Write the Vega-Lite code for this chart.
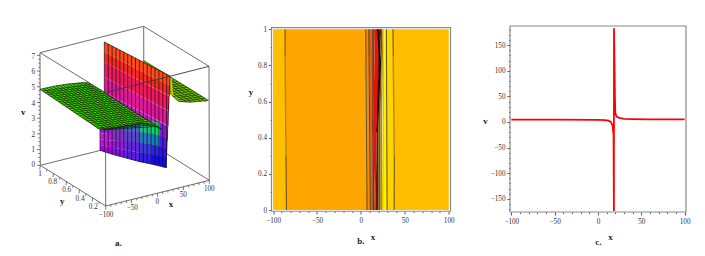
{
"$schema":"https://vega.github.io/schema/vega-lite/v6.json",
"background":"white",
"padding":{"left":21,"top":24,"right":10,"bottom":5},
"bounds":"flush",
"spacing":59.5,
"resolve":{"scale":{"color":"independent"}},
"config":{"view":{"stroke":null},"font":"Liberation Serif","axis":{"labelFont":"Liberation Serif","labelFontSize":7.2,"labelColor":"#333333","tickColor":"#555555","domain":false,"grid":false}},
"datasets":{
"edgesBack":[
{"u":40.3,"w":163.3,"u2":144,"w2":137.6},{"u":144,"w":137.6,"u2":209.3,"w2":178.3},{"u":143.7,"w":24.3,"u2":144,"w2":137.6},
{"u":40,"w":50.7,"u2":143.7,"w2":24.3},{"u":143.7,"w":24.3,"u2":209,"w2":64.3},{"u":40,"w":50.7,"u2":105.5,"w2":90.7},
{"u":105.7,"w":204,"u2":105.5,"w2":90.7},{"u":40.3,"w":163.3,"u2":40,"w2":50.7},{"u":209.3,"w":178.3,"u2":209,"w2":64.3},
{"u":40.3,"w":163.3,"u2":105.7,"w2":204},{"u":105.7,"w":204,"u2":209.3,"w2":178.3}],
"edgeFront":[{"u":105.5,"w":90.7,"u2":209,"w2":64.3}],
"rear":[{"s":"rear","u":143.3,"w":58.3,"b":61},{"s":"rear","u":170,"w":74.2,"b":92},{"s":"rear","u":171.7,"w":75.4,"b":93.3},{"s":"rear","u":178.3,"w":79.4,"b":99.3},{"s":"rear","u":190,"w":86.6,"b":100.3},{"s":"rear","u":200,"w":93,"b":99.5},{"s":"rear","u":208.3,"w":98.3,"b":98.3}],
"rearMesh":[
{"u":175,"w":77.8,"u2":170.5,"w2":78.4},{"u":178,"w":79.6,"u2":170.5,"w2":80.7},{"u":181,"w":81.5,"u2":170.5,"w2":83},{"u":184,"w":83.3,"u2":170.5,"w2":85.2},{"u":187,"w":85.2,"u2":170.5,"w2":87.5},{"u":190,"w":87,"u2":170.5,"w2":89.7},{"u":193,"w":88.9,"u2":170.5,"w2":92},{"u":196,"w":90.7,"u2":173.5,"w2":94.5},{"u":199,"w":92.6,"u2":177,"w2":95.7},{"u":202,"w":94.4,"u2":178,"w2":97.8},{"u":205,"w":96.2,"u2":180,"w2":99.7},
{"u":170.5,"w":78,"u2":205.8,"w2":99.7},{"u":170.5,"w":81,"u2":200.9,"w2":99.7},{"u":170.5,"w":84,"u2":196,"w2":99.7},{"u":170.5,"w":87,"u2":191,"w2":99.7},{"u":170.5,"w":90,"u2":186.3,"w2":99.7},
{"u":143.3,"w":58.3,"u2":208.3,"w2":98.3},{"u":171.7,"w":93.3,"u2":178.3,"w2":99.3},{"u":178.3,"w":99.3,"u2":190,"w2":100.3},{"u":190,"w":100.3,"u2":208.3,"w2":98.3}],
"sliver":[{"u":170.8,"w":76,"u2":172.3,"w2":93}],
"sheet":[
{"s":"U1","u":104.3,"w":40,"b":50},{"s":"U1","u":170,"w":74,"b":84},
{"s":"U2","u":104.3,"w":50,"b":60},{"s":"U2","u":169.6,"w":84,"b":94},
{"s":"U3","u":104.3,"w":60,"b":75},{"s":"U3","u":169,"w":94,"b":109},
{"s":"U4","u":104.3,"w":75,"b":90},{"s":"U4","u":168.5,"w":109,"b":124},
{"s":"U5","u":104.3,"w":90,"b":105},{"s":"U5","u":167.8,"w":124,"b":139},
{"s":"U6","u":104.3,"w":105,"b":120},{"s":"U6","u":167,"w":139,"b":154},
{"s":"U7","u":104.3,"w":120,"b":130},{"s":"U7","u":166.3,"w":154,"b":166},
{"s":"A1","u":100,"w":124,"b":131.3},{"s":"A1","u":113,"w":122,"b":131.2},
{"s":"A2","u":100,"w":131.3,"b":137.4},{"s":"A2","u":113,"w":131.2,"b":138.8},
{"s":"A3","u":100,"w":137.4,"b":143},{"s":"A3","u":113,"w":138.8,"b":145.8},
{"s":"A4","u":100,"w":143,"b":148.3},{"s":"A4","u":113,"w":145.8,"b":152.5},
{"s":"B1","u":113,"w":122,"b":131.2},{"s":"B1","u":126,"w":119,"b":130.1},
{"s":"B2","u":113,"w":131.2,"b":138.8},{"s":"B2","u":126,"w":130.1,"b":139.4},
{"s":"B3","u":113,"w":138.8,"b":145.8},{"s":"B3","u":126,"w":139.4,"b":147.9},
{"s":"B4","u":113,"w":145.8,"b":152.5},{"s":"B4","u":126,"w":147.9,"b":156},
{"s":"C1","u":126,"w":119,"b":130.1},{"s":"C1","u":139,"w":118,"b":130.5},
{"s":"C2","u":126,"w":130.1,"b":139.4},{"s":"C2","u":139,"w":130.5,"b":140.8},
{"s":"C3","u":126,"w":139.4,"b":147.9},{"s":"C3","u":139,"w":140.8,"b":150.4},
{"s":"C4","u":126,"w":147.9,"b":156},{"s":"C4","u":139,"w":150.4,"b":159.5},
{"s":"D1","u":139,"w":118,"b":130.5},{"s":"D1","u":152,"w":119,"b":132},
{"s":"D2","u":139,"w":130.5,"b":140.8},{"s":"D2","u":152,"w":132,"b":142.8},
{"s":"D3","u":139,"w":140.8,"b":150.4},{"s":"D3","u":152,"w":142.8,"b":152.7},
{"s":"D4","u":139,"w":150.4,"b":159.5},{"s":"D4","u":152,"w":152.7,"b":162.2},
{"s":"E1","u":152,"w":119,"b":132},{"s":"E1","u":160,"w":121,"b":133.9},
{"s":"E2","u":152,"w":132,"b":142.8},{"s":"E2","u":160,"w":133.9,"b":144.7},
{"s":"E3","u":152,"w":142.8,"b":152.7},{"s":"E3","u":160,"w":144.7,"b":154.5},
{"s":"E4","u":152,"w":152.7,"b":162.2},{"s":"E4","u":160,"w":154.5,"b":164},
{"s":"F1","u":160,"w":121,"b":133.9},{"s":"F1","u":166,"w":124,"b":136.5},
{"s":"F2","u":160,"w":133.9,"b":144.7},{"s":"F2","u":166,"w":136.5,"b":146.9},
{"s":"F3","u":160,"w":144.7,"b":154.5},{"s":"F3","u":166,"w":146.9,"b":156.5},
{"s":"F4","u":160,"w":154.5,"b":164},{"s":"F4","u":166,"w":156.5,"b":165.7}],
"stripes":[
{"u":104.3,"w":40,"u2":104.3,"w2":149.7},{"u":108.2,"w":42,"u2":108.2,"w2":151},{"u":112.1,"w":44,"u2":112.1,"w2":152.2},{"u":116,"w":46.1,"u2":116,"w2":153.3},{"u":119.9,"w":48.1,"u2":119.9,"w2":154.3},{"u":123.8,"w":50.1,"u2":123.8,"w2":155.4},{"u":127.7,"w":52.1,"u2":127.7,"w2":156.5},{"u":131.6,"w":54.1,"u2":131.6,"w2":157.6},{"u":135.5,"w":56.2,"u2":135.5,"w2":158.6},{"u":139.4,"w":58.2,"u2":139.4,"w2":159.6},{"u":143.3,"w":60.2,"u2":143.3,"w2":160.4},{"u":147.2,"w":62.2,"u2":147.2,"w2":161.2},{"u":151.1,"w":64.3,"u2":151.1,"w2":162},{"u":155,"w":66.3,"u2":155,"w2":162.9},{"u":158.9,"w":68.3,"u2":158.9,"w2":163.8},{"u":162.8,"w":70.3,"u2":162.8,"w2":164.8},{"u":166.7,"w":72.3,"u2":166.4,"w2":165.5},
{"u":104.3,"w":40,"u2":170,"w2":74},{"u":170,"w":74,"u2":166,"w2":165.7},{"u":100,"w":126,"u2":100,"w2":148.3},{"u":100,"w":148.3,"u2":113,"w2":152.5},{"u":113,"w":152.5,"u2":126,"w2":156},{"u":126,"w":156,"u2":139,"w2":159.5},{"u":139,"w":159.5,"u2":152,"w2":162.2},{"u":152,"w":162.2,"u2":166,"w2":165.7}],
"plateau":[{"s":"front","u":40,"w":87.3,"b":87.3},{"s":"front","u":55,"w":84,"b":97.4},{"s":"front","u":68,"w":82,"b":106.2},{"s":"front","u":80,"w":80.5,"b":114.3},{"s":"front","u":88,"w":80.5,"b":119.7},{"s":"front","u":98.3,"w":87.1,"b":126.7},{"s":"front","u":105.7,"w":91.9,"b":127.7},{"s":"front","u":125,"w":104.3,"b":124},{"s":"front","u":140,"w":113.9,"b":121.5},{"s":"front","u":152,"w":121.6,"b":123},{"s":"front","u":161.7,"w":127.3,"b":127.3}],
"mesh":[
{"u":43.2,"w":86.6,"u2":106,"w2":127.4},{"u":46.4,"w":85.9,"u2":110,"w2":127},{"u":49.6,"w":85.2,"u2":113,"w2":126.3},{"u":52.8,"w":84.5,"u2":116,"w2":125.7},{"u":56,"w":83.8,"u2":119,"w2":124.9},{"u":59.2,"w":83.3,"u2":122.5,"w2":124.4},{"u":62.4,"w":82.8,"u2":126,"w2":124},{"u":65.6,"w":82.4,"u2":129,"w2":123.4},{"u":68.8,"w":81.9,"u2":132,"w2":122.9},{"u":72,"w":81.5,"u2":135,"w2":122.3},{"u":75.2,"w":81.1,"u2":138,"w2":121.8},{"u":78.4,"w":80.7,"u2":141.5,"w2":121.7},{"u":81.6,"w":80.5,"u2":145.5,"w2":122.2},{"u":84.8,"w":80.5,"u2":149.5,"w2":122.6},
{"u":42.6,"w":89.1,"u2":90.9,"w2":82.3},{"u":45.2,"w":90.9,"u2":93.7,"w2":84.1},{"u":47.8,"w":92.6,"u2":96.5,"w2":85.8},{"u":50.4,"w":94.4,"u2":99.3,"w2":87.6},{"u":53,"w":96.1,"u2":102.1,"w2":89.3},{"u":55.6,"w":97.9,"u2":104.9,"w2":91.1},{"u":58.2,"w":99.7,"u2":107.7,"w2":92.8},{"u":60.8,"w":101.4,"u2":110.5,"w2":94.6},{"u":63.4,"w":103.2,"u2":113.3,"w2":96.3},{"u":66,"w":104.9,"u2":116.1,"w2":98.1},{"u":68.6,"w":106.7,"u2":118.9,"w2":99.8},{"u":71.2,"w":108.5,"u2":121.7,"w2":101.6},{"u":73.8,"w":110.2,"u2":124.5,"w2":103.3},{"u":76.4,"w":112,"u2":127.3,"w2":105.1},{"u":79,"w":113.7,"u2":130.1,"w2":106.8},{"u":81.6,"w":115.5,"u2":132.9,"w2":108.6},{"u":84.2,"w":117.3,"u2":135.7,"w2":110.3},{"u":86.8,"w":119,"u2":138.5,"w2":112.1},{"u":89.4,"w":120.8,"u2":141.3,"w2":113.8},{"u":92,"w":122.5,"u2":144.1,"w2":115.6},{"u":94.6,"w":124.3,"u2":146.9,"w2":117.3},{"u":97.2,"w":126.1,"u2":149.7,"w2":119.1},{"u":99.8,"w":127,"u2":152.5,"w2":120.8},{"u":102.4,"w":127.3,"u2":155.3,"w2":122.6},{"u":105,"w":127.7,"u2":158.1,"w2":124.3},
{"u":40,"w":87.3,"u2":55,"w2":84},{"u":55,"w":84,"u2":68,"w2":82},{"u":68,"w":82,"u2":88,"w2":80.5},{"u":88,"w":80.5,"u2":161.7,"w2":127.3},{"u":40,"w":87.3,"u2":99,"w2":126.9},{"u":99,"w":126.9,"u2":105.7,"w2":127.7},{"u":105.7,"w":127.7,"u2":125,"w2":124},{"u":125,"w":124,"u2":140,"w2":121.5},{"u":140,"w":121.5,"u2":152,"w2":123},{"u":152,"w":123,"u2":161.7,"w2":127.3}],
"ticksA":[
{"u":40,"w":163.3,"u2":37,"w2":163.3},{"u":40,"w":147.6,"u2":37,"w2":147.6},{"u":40,"w":131.9,"u2":37,"w2":131.9},{"u":40,"w":116.2,"u2":37,"w2":116.2},{"u":40,"w":100.5,"u2":37,"w2":100.5},{"u":40,"w":84.8,"u2":37,"w2":84.8},{"u":40,"w":69.1,"u2":37,"w2":69.1},{"u":40,"w":53.4,"u2":37,"w2":53.4},
{"u":40,"w":159.4,"u2":38.4,"w2":159.4},{"u":40,"w":155.4,"u2":38.4,"w2":155.4},{"u":40,"w":151.5,"u2":38.4,"w2":151.5},{"u":40,"w":143.7,"u2":38.4,"w2":143.7},{"u":40,"w":139.7,"u2":38.4,"w2":139.7},{"u":40,"w":135.8,"u2":38.4,"w2":135.8},{"u":40,"w":128,"u2":38.4,"w2":128},{"u":40,"w":124,"u2":38.4,"w2":124},{"u":40,"w":120.1,"u2":38.4,"w2":120.1},{"u":40,"w":112.3,"u2":38.4,"w2":112.3},{"u":40,"w":108.3,"u2":38.4,"w2":108.3},{"u":40,"w":104.4,"u2":38.4,"w2":104.4},{"u":40,"w":96.6,"u2":38.4,"w2":96.6},{"u":40,"w":92.6,"u2":38.4,"w2":92.6},{"u":40,"w":88.7,"u2":38.4,"w2":88.7},{"u":40,"w":80.9,"u2":38.4,"w2":80.9},{"u":40,"w":76.9,"u2":38.4,"w2":76.9},{"u":40,"w":73,"u2":38.4,"w2":73},{"u":40,"w":65.2,"u2":38.4,"w2":65.2},{"u":40,"w":61.2,"u2":38.4,"w2":61.2},{"u":40,"w":57.3,"u2":38.4,"w2":57.3},
{"u":40.3,"w":163.3,"u2":39.8,"w2":167},{"u":46.8,"w":167.4,"u2":46.4,"w2":169.4},{"u":53.4,"w":171.4,"u2":52.9,"w2":175.1},{"u":59.9,"w":175.5,"u2":59.5,"w2":177.5},{"u":66.5,"w":179.6,"u2":66,"w2":183.3},{"u":73,"w":183.7,"u2":72.6,"w2":185.7},{"u":79.5,"w":187.7,"u2":79,"w2":191.4},{"u":86.1,"w":191.8,"u2":85.7,"w2":193.8},{"u":92.6,"w":195.9,"u2":92.1,"w2":199.6},{"u":99.2,"w":199.9,"u2":98.8,"w2":201.9},
{"u":105.7,"w":204,"u2":105.7,"w2":207.5},{"u":110.9,"w":202.7,"u2":110.9,"w2":204.7},{"u":116.1,"w":201.4,"u2":116.1,"w2":203.4},{"u":121.2,"w":200.1,"u2":121.2,"w2":202.1},{"u":126.4,"w":198.9,"u2":126.4,"w2":200.9},{"u":131.6,"w":197.6,"u2":131.6,"w2":201.1},{"u":136.8,"w":196.3,"u2":136.8,"w2":198.3},{"u":142,"w":195,"u2":142,"w2":197},{"u":147.1,"w":193.7,"u2":147.1,"w2":195.7},{"u":152.3,"w":192.4,"u2":152.3,"w2":194.4},{"u":157.5,"w":191.2,"u2":157.5,"w2":194.7},{"u":162.7,"w":189.9,"u2":162.7,"w2":191.9},{"u":167.9,"w":188.6,"u2":167.9,"w2":190.6},{"u":173,"w":187.3,"u2":173,"w2":189.3},{"u":178.2,"w":186,"u2":178.2,"w2":188},{"u":183.4,"w":184.7,"u2":183.4,"w2":188.2},{"u":188.6,"w":183.4,"u2":188.6,"w2":185.4},{"u":193.8,"w":182.2,"u2":193.8,"w2":184.2},{"u":198.9,"w":180.9,"u2":198.9,"w2":182.9},{"u":204.1,"w":179.6,"u2":204.1,"w2":181.6},{"u":209.3,"w":178.3,"u2":209.3,"w2":181.8}],
"labelsA":[
{"u":33.3,"w":163.3,"t":"0"},{"u":33.3,"w":148.3,"t":"1"},{"u":33.3,"w":132.7,"t":"2"},{"u":33.3,"w":117,"t":"3"},{"u":33.3,"w":101.7,"t":"4"},{"u":33.3,"w":86,"t":"5"},{"u":33.3,"w":70.3,"t":"6"},{"u":33.3,"w":55.3,"t":"7"},
{"u":40,"w":172.3,"t":"1"},{"u":52.7,"w":180,"t":"0.8"},{"u":66.7,"w":188.3,"t":"0.6"},{"u":80,"w":196.7,"t":"0.4"},{"u":93.3,"w":204.7,"t":"0.2"},
{"u":106,"w":212.7,"t":"−100"},{"u":132.3,"w":206,"t":"−50"},{"u":157.3,"w":200,"t":"0"},{"u":183.3,"w":192.7,"t":"50"},{"u":209.3,"w":186.7,"t":"100"}],
"titlesA":[{"u":23.3,"w":110,"t":"v"},{"u":62.3,"w":199.3,"t":"y"},{"u":171,"w":201.7,"t":"x"},{"u":118.3,"w":240.5,"t":"a."}],
"bands":[
{"s":"b00","y":0,"x":-100,"x2":-84.8},{"s":"b00","y":1,"x":-100,"x2":-86.3},
{"s":"b01","y":0,"x":-84.8,"x2":7},{"s":"b01","y":1,"x":-86.3,"x2":5.5},
{"s":"b02","y":0,"x":7,"x2":10.8},{"s":"b02","y":0.45,"x":7,"x2":10.5},{"s":"b02","y":1,"x":5.5,"x2":9},
{"s":"b03","y":0,"x":10.8,"x2":14},{"s":"b03","y":0.45,"x":10.5,"x2":12.7},{"s":"b03","y":1,"x":9,"x2":13.5},
{"s":"b04","y":0,"x":14,"x2":16},{"s":"b04","y":0.45,"x":12.7,"x2":14},{"s":"b04","y":1,"x":13.5,"x2":16},
{"s":"b05","y":0,"x":16,"x2":16.5},{"s":"b05","y":0.45,"x":14,"x2":18.2},{"s":"b05","y":1,"x":16,"x2":18.8},
{"s":"b06","y":0,"x":16.5,"x2":20},{"s":"b06","y":0.45,"x":18.2,"x2":19.8},{"s":"b06","y":1,"x":18.8,"x2":23},
{"s":"b07","y":0,"x":20,"x2":22},{"s":"b07","y":0.45,"x":19.8,"x2":22},{"s":"b07","y":1,"x":23,"x2":24.5},
{"s":"b08","y":0,"x":22,"x2":24},{"s":"b08","y":0.45,"x":22,"x2":24},{"s":"b08","y":1,"x":24.5,"x2":25.5},
{"s":"b09","y":0,"x":24,"x2":26},{"s":"b09","y":1,"x":25.5,"x2":26.5},
{"s":"b10","y":0,"x":26,"x2":29.8},{"s":"b10","y":1,"x":26.5,"x2":29},
{"s":"b11","y":0,"x":29.8,"x2":37.8},{"s":"b11","y":1,"x":29,"x2":36.5},
{"s":"b12","y":0,"x":37.8,"x2":100},{"s":"b12","y":1,"x":36.5,"x2":100}],
"contDark":[
{"x":-84.8,"y":0,"x2":-85.3,"y2":0.3},{"x":-86.3,"y":0.85,"x2":-86.3,"y2":1},{"x":37.8,"y":0,"x2":38,"y2":0.3},{"x":36.8,"y":0.85,"x2":36.5,"y2":1},
{"x":7,"y":0,"x2":5.5,"y2":1},{"x":10.8,"y":0,"x2":9,"y2":1},{"x":14,"y":0,"x2":13.5,"y2":1},{"x":29.8,"y":0,"x2":29,"y2":1}],
"contOlive":[{"x":-85.3,"y":0.3,"x2":-86.3,"y2":0.85},{"x":38,"y":0.3,"x2":36.8,"y2":0.85}],
"contBlack":[{"x":18.4,"y":0.43,"x2":19.5,"y2":0.54},{"x":19.5,"y":0.54,"x2":20.7,"y2":0.67},{"x":20.7,"y":0.67,"x2":22.2,"y2":0.82},{"x":22.2,"y":0.82,"x2":18.8,"y2":1}],
"curve":[{"x":-100,"y":4.5},{"x":-50,"y":4.5},{"x":0,"y":4.2},{"x":8,"y":3.5},{"x":12,"y":2.5},{"x":15,"y":0},{"x":17,"y":-8},{"x":18,"y":-25},{"x":18.4,"y":-174},{"x":18.5,"y":183},{"x":19.6,"y":47},{"x":20,"y":18},{"x":21,"y":12},{"x":23,"y":9},{"x":26,"y":7.5},{"x":30,"y":6},{"x":40,"y":5.5},{"x":60,"y":5.2},{"x":100,"y":5}]
},
"hconcat":[
{"width":174,"height":191,
"encoding":{"x":{"field":"u","type":"quantitative","scale":{"domain":[38,212],"nice":false,"zero":false},"axis":null},"y":{"field":"w","type":"quantitative","scale":{"domain":[215,24],"nice":false,"zero":false},"axis":null}},
"layer":[
{"data":{"name":"edgesBack"},"mark":{"type":"rule","color":"#6e6e6e","strokeWidth":1},"encoding":{"x2":{"field":"u2"},"y2":{"field":"w2"}}},
{"data":{"name":"rear"},"mark":{"type":"area","color":"#74cc00"},"encoding":{"y2":{"field":"b"}}},
{"data":{"name":"rearMesh"},"mark":{"type":"rule","color":"#1a2a00","strokeWidth":0.7},"encoding":{"x2":{"field":"u2"},"y2":{"field":"w2"}}},
{"data":{"name":"sliver"},"mark":{"type":"rule","color":"#ffc000","strokeWidth":1.6},"encoding":{"x2":{"field":"u2"},"y2":{"field":"w2"}}},
{"data":{"name":"sheet"},"mark":{"type":"area"},"encoding":{"y2":{"field":"b"},"color":{"field":"s","type":"nominal","legend":null,"scale":{"domain":["U1","U2","U3","U4","U5","U6","U7","A1","A2","A3","A4","B1","B2","B3","B4","C1","C2","C3","C4","D1","D2","D3","D4","E1","E2","E3","E4","F1","F2","F3","F4"],"range":["#ff4c14","#f52a22","#f01a5a","#e0189a","#c41ec4","#8c22e0","#4a20e8","#9620d2","#be1ed2","#b414dc","#aa00e6","#6446be","#8232c8","#8c1edc","#8214e6","#3c6ebe","#5a46c8","#6428dc","#5a1ee6","#1ebe82","#2878be","#3c3cdc","#321ee6","#00dc5a","#1482b4","#2828dc","#140af0","#781edc","#461ee6","#2814eb","#140af0"]}}}},
{"data":{"name":"stripes"},"mark":{"type":"rule","color":"#140614","strokeWidth":0.8,"opacity":0.85},"encoding":{"x2":{"field":"u2"},"y2":{"field":"w2"}}},
{"data":{"name":"edgeFront"},"mark":{"type":"rule","color":"#3a3a3a","strokeWidth":0.9},"encoding":{"x2":{"field":"u2"},"y2":{"field":"w2"}}},
{"data":{"name":"plateau"},"mark":{"type":"area","color":"#44d800"},"encoding":{"y2":{"field":"b"}}},
{"data":{"name":"mesh"},"mark":{"type":"rule","color":"#0a1a00","strokeWidth":0.65},"encoding":{"x2":{"field":"u2"},"y2":{"field":"w2"}}},
{"data":{"name":"ticksA"},"mark":{"type":"rule","color":"#555555","strokeWidth":0.8},"encoding":{"x2":{"field":"u2"},"y2":{"field":"w2"}}},
{"data":{"name":"labelsA"},"mark":{"type":"text","fontSize":7.2,"color":"#333333","font":"Liberation Serif","baseline":"middle"},"encoding":{"text":{"field":"t"}}},
{"data":{"name":"titlesA"},"mark":{"type":"text","fontSize":9,"fontWeight":"bold","color":"#222222","font":"Liberation Serif","baseline":"middle"},"encoding":{"text":{"field":"t"}}}
]},
{"width":179,"height":185,
"encoding":{"x":{"field":"x","type":"quantitative","scale":{"domain":[-101.8,102],"nice":false,"zero":false},
"axis":{"values":[-100,-90,-80,-70,-60,-50,-40,-30,-20,-10,0,10,20,30,40,50,60,70,80,90,100],"labelExpr":"datum.value % 50 === 0 ? datum.label : ''","tickSize":{"condition":{"test":"datum.value % 50 === 0","value":3},"value":1.5},"labelPadding":2,"title":"x","titleFontSize":9,"titleFontWeight":"bold","titleColor":"#222222","titleFont":"Liberation Serif","titleX":101,"titleY":21}},
"y":{"field":"y","type":"quantitative","scale":{"domain":[0,1],"range":[184,3.3],"nice":false,"zero":false},
"axis":{"values":[0,0.1,0.2,0.3,0.4,0.5,0.6,0.7,0.8,0.9,1],"format":"~r","labelExpr":"abs(round(datum.value*5)-datum.value*5)<0.001 ? datum.label : ''","tickSize":{"condition":{"test":"abs(round(datum.value*5)-datum.value*5)<0.001","value":3},"value":1.5},"labelPadding":2,"title":"y","titleAngle":0,"titleFontSize":9,"titleFontWeight":"bold","titleColor":"#222222","titleFont":"Liberation Serif","titleX":-21,"titleY":70}}},
"layer":[
{"data":{"name":"bands"},"mark":{"type":"area","orient":"horizontal"},"encoding":{"x2":{"field":"x2"},"color":{"field":"s","type":"nominal","legend":null,"scale":{"domain":["b00","b01","b02","b03","b04","b05","b06","b07","b08","b09","b10","b11","b12"],"range":["#ffbe00","#ffa500","#f58a08","#d8641a","#b83a0c","#e81008","#5a1a04","#7a5200","#b08c00","#e0c400","#fff000","#ffd400","#ffbe00"]}}}},
{"data":{"name":"contDark"},"mark":{"type":"rule","color":"#3a2a10","strokeWidth":0.8},"encoding":{"x2":{"field":"x2"},"y2":{"field":"y2"}}},
{"data":{"name":"contOlive"},"mark":{"type":"rule","color":"#b88a10","strokeWidth":1.5},"encoding":{"x2":{"field":"x2"},"y2":{"field":"y2"}}},
{"data":{"name":"contBlack"},"mark":{"type":"rule","color":"#000000","strokeWidth":1.2},"encoding":{"x2":{"field":"x2"},"y2":{"field":"y2"}}},
{"data":{"values":[{"x":-101.8,"x2":102,"y":-0.007,"y2":1.009}]},"mark":{"type":"rect","filled":false,"stroke":"#8a8a8a","strokeWidth":1.2},"encoding":{"x2":{"field":"x2"},"y2":{"field":"y2"}}},
{"data":{"values":[{"x":0,"y":-0.172,"t":"b."}]},"mark":{"type":"text","fontSize":9,"fontWeight":"bold","color":"#222222","font":"Liberation Serif","baseline":"middle"},"encoding":{"text":{"field":"t"}}}
]},
{"width":176,"height":186,
"encoding":{"x":{"field":"x","type":"quantitative","scale":{"domain":[-101.5,101.6],"nice":false,"zero":false},
"axis":{"values":[-100,-90,-80,-70,-60,-50,-40,-30,-20,-10,0,10,20,30,40,50,60,70,80,90,100],"labelExpr":"datum.value % 50 === 0 ? datum.label : ''","tickSize":{"condition":{"test":"datum.value % 50 === 0","value":3},"value":1.5},"labelPadding":2,"title":"x","titleFontSize":9,"titleFontWeight":"bold","titleColor":"#222222","titleFont":"Liberation Serif","titleX":100,"titleY":20}},
"y":{"field":"y","type":"quantitative","scale":{"domain":[-175.8,187.5],"nice":false,"zero":false},
"axis":{"values":[-170,-160,-150,-140,-130,-120,-110,-100,-90,-80,-70,-60,-50,-40,-30,-20,-10,0,10,20,30,40,50,60,70,80,90,100,110,120,130,140,150,160,170,180],"labelExpr":"datum.value % 50 === 0 ? datum.label : ''","tickSize":{"condition":{"test":"datum.value % 50 === 0","value":3},"value":1.5},"labelPadding":2,"title":"v","titleAngle":0,"titleFontSize":9,"titleFontWeight":"bold","titleColor":"#222222","titleFont":"Liberation Serif","titleX":-25,"titleY":99}}},
"layer":[
{"data":{"name":"curve"},"mark":{"type":"line","color":"#ff0000","strokeWidth":1.8,"clip":false}},
{"data":{"values":[{"x":-101.5,"x2":101.6,"y":-175.8,"y2":187.5}]},"mark":{"type":"rect","filled":false,"stroke":"#8a8a8a","strokeWidth":1.2},"encoding":{"x2":{"field":"x2"},"y2":{"field":"y2"}}},
{"data":{"values":[{"x":0.4,"y":-234,"t":"c."}]},"mark":{"type":"text","fontSize":9,"fontWeight":"bold","color":"#222222","font":"Liberation Serif","baseline":"middle"},"encoding":{"text":{"field":"t"}}}
]}
]
}
